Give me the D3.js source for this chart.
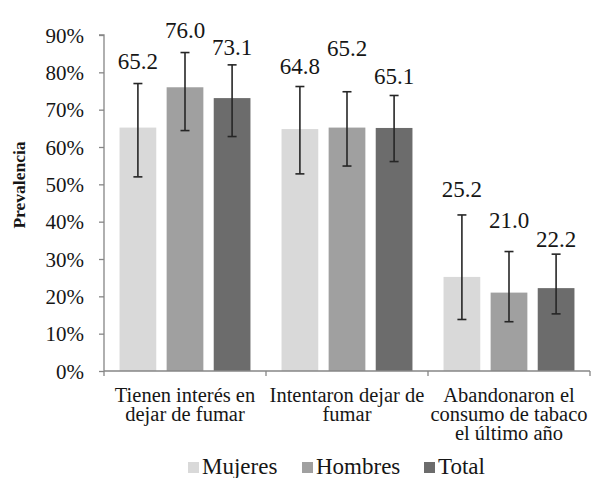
<!DOCTYPE html>
<html>
<head>
<meta charset="utf-8">
<script src="https://cdn.jsdelivr.net/npm/d3@7"></script>
<style>
  html, body { margin: 0; padding: 0; background: #fff; }
  svg { display: block; }
</style>
</head>
<body>
<svg id="chart" width="592" height="478" font-family="Liberation Serif"></svg>
<script>
// ---- data ----
const categories = ["Tienen interés en dejar de fumar", "Intentaron dejar de fumar", "Abandonaron el consumo de tabaco el último año"];
const categoryLines = [["Tienen interés en", "dejar de fumar"], ["Intentaron dejar de", "fumar"], ["Abandonaron el", "consumo de tabaco", "el último año"]];
const seriesNames = ["Mujeres", "Hombres", "Total"];
const mujeres = [65.2, 64.8, 25.2];
const hombres = [76.0, 65.2, 21.0];
const total = [73.1, 65.1, 22.2];
const mujeresLow = [52.0, 52.8, 13.8];
const mujeresHigh = [77.0, 76.2, 41.8];
const hombresLow = [64.4, 54.9, 13.2];
const hombresHigh = [85.3, 74.8, 32.0];
const totalLow = [62.8, 56.1, 15.3];
const totalHigh = [82.0, 73.8, 31.3];
// value-label anchor heights (in % units, as placed in the original)
const mujeresLabelAt = [80.9, 79.6, 46.7];
const hombresLabelAt = [89.2, 84.4, 38.3];
const totalLabelAt = [84.6, 76.9, 33.3];
const yTicks = [0, 10, 20, 30, 40, 50, 60, 70, 80, 90];
const colors = ["#d9d9d9", "#a0a0a0", "#6c6c6c"];

const seriesValues = [mujeres, hombres, total];
const seriesLow = [mujeresLow, hombresLow, totalLow];
const seriesHigh = [mujeresHigh, hombresHigh, totalHigh];
const seriesLabelAt = [mujeresLabelAt, hombresLabelAt, totalLabelAt];

(function () {
const FONT = "Liberation Serif";
const TXT = "#161616";
const svg = d3.select("#chart");
const mLeft = 104, mRight = 590, mTop = 35, mBottom = 371;

function styleText(sel, size, weight) {
  sel.attr("font-family", FONT)
     .style("font-family", '"' + FONT + '"')
     .attr("font-size", size)
     .attr("font-weight", weight || "normal")
     .attr("fill", TXT);
  return sel;
}

const y = d3.scaleLinear().domain([0, 90]).range([mBottom, mTop]);
const x0 = d3.scaleBand().domain(categories).range([mLeft, mRight]).padding(0);
const x1 = d3.scaleBand().domain(seriesNames).range([0, x0.bandwidth()]).paddingInner(0.22).paddingOuter(0.33);

const points = [];
categories.forEach((c, ci) => {
  seriesNames.forEach((s, si) => {
    points.push({
      cat: c, ser: s, si,
      v: seriesValues[si][ci],
      lo: seriesLow[si][ci],
      hi: seriesHigh[si][ci],
      la: seriesLabelAt[si][ci]
    });
  });
});

const g = svg.append("g");
g.selectAll("rect.bar").data(points).enter().append("rect")
  .attr("class", "bar")
  .attr("x", d => x0(d.cat) + x1(d.ser))
  .attr("y", d => y(d.v))
  .attr("width", x1.bandwidth())
  .attr("height", d => y(0) - y(d.v))
  .attr("fill", d => colors[d.si]);

const cx = d => x0(d.cat) + x1(d.ser) + x1.bandwidth() / 2;
const eb = g.selectAll("g.err").data(points).enter().append("g").attr("class", "err")
  .attr("stroke", "#262626").attr("stroke-width", 1.6);
eb.append("line").attr("x1", cx).attr("x2", cx).attr("y1", d => y(d.hi)).attr("y2", d => y(d.lo));
eb.append("line").attr("x1", d => cx(d) - 4.5).attr("x2", d => cx(d) + 4.5).attr("y1", d => y(d.hi)).attr("y2", d => y(d.hi));
eb.append("line").attr("x1", d => cx(d) - 4.5).attr("x2", d => cx(d) + 4.5).attr("y1", d => y(d.lo)).attr("y2", d => y(d.lo));

styleText(g.selectAll("text.val").data(points).enter().append("text")
  .attr("class", "val")
  .attr("x", cx)
  .attr("y", d => y(d.la))
  .attr("text-anchor", "middle"), 23)
  .text(d => d.v.toFixed(1));

const yAxis = d3.axisLeft(y).tickValues(yTicks).tickFormat(d => d + "%").tickSize(5).tickPadding(15);
const ya = svg.append("g").attr("transform", `translate(${mLeft},0)`).call(yAxis);
ya.attr("font-family", FONT).attr("font-size", 21);
ya.selectAll("path, line").attr("stroke", "#868686").attr("stroke-width", 1.3);
ya.select(".domain").attr("d", `M-5,${mTop}H0V${mBottom}`);
styleText(ya.selectAll("text"), 21).attr("dy", "0.34em");

const xa = svg.append("g").attr("transform", `translate(0,${mBottom})`);
xa.append("line").attr("x1", mLeft).attr("x2", mRight).attr("y1", 0).attr("y2", 0).attr("stroke", "#868686").attr("stroke-width", 1.3);
const bounds = categories.map(c => x0(c)).concat([x0(categories[categories.length - 1]) + x0.bandwidth()]);
xa.selectAll("line.tk").data(bounds).enter().append("line")
  .attr("class", "tk")
  .attr("x1", d => d).attr("x2", d => d).attr("y1", 0).attr("y2", 5)
  .attr("stroke", "#868686").attr("stroke-width", 1.3);
categories.forEach((c, ci) => {
  const cxm = x0(c) + x0.bandwidth() / 2;
  categoryLines[ci].forEach((ln, li) => {
    styleText(xa.append("text")
      .attr("x", cxm)
      .attr("y", 31 + li * 19)
      .attr("text-anchor", "middle"), 20.5)
      .text(ln);
  });
});

styleText(svg.append("text")
  .attr("transform", "translate(25,185) rotate(-90)")
  .attr("text-anchor", "middle"), 17.5, "bold")
  .text("Prevalencia");

const legendX = [188, 302, 424];
const lg = svg.append("g");
seriesNames.forEach((s, si) => {
  lg.append("rect").attr("x", legendX[si]).attr("y", 462).attr("width", 11).attr("height", 11).attr("fill", colors[si]);
  styleText(lg.append("text").attr("x", legendX[si] + 14).attr("y", 474), 23).text(s);
});
})();
</script>
</body>
</html>
